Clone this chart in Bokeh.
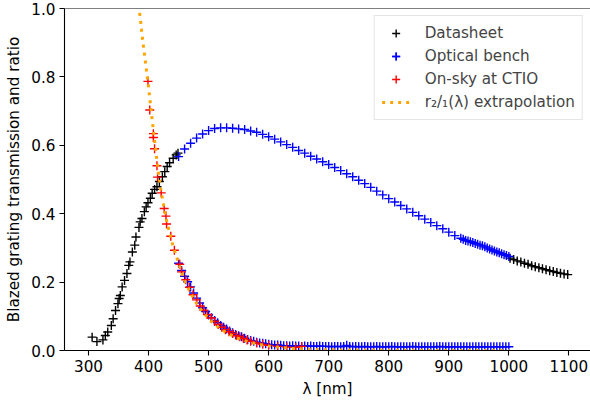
from bokeh.plotting import figure
from bokeh.models import (Range1d, FixedTicker, PrintfTickFormatter, Legend,
                          LegendItem, Span)
from bokeh.embed import file_html
from bokeh.resources import INLINE

# ---------------- data ----------------
# Datasheet transmission (black)
datasheet_wl = [306, 314, 324, 328, 332, 338, 341, 345, 349, 351,
                353, 356, 360, 364, 367, 369, 373, 377, 379, 384,
                386, 389, 393, 396, 399, 403, 406, 410, 414, 418,
                423, 427, 431, 435, 441, 446, 449,
                1002, 1008, 1014, 1020, 1026, 1032, 1038, 1044, 1050,
                1056, 1062, 1068, 1074, 1080, 1086, 1092, 1098]
datasheet_tr = [0.039, 0.026, 0.031, 0.044, 0.054, 0.073, 0.093, 0.117, 0.137, 0.152,
                0.161, 0.186, 0.205, 0.225, 0.249, 0.259, 0.288, 0.308, 0.332, 0.360,
                0.376, 0.386, 0.406, 0.420, 0.432, 0.445, 0.460, 0.471, 0.479, 0.494,
                0.508, 0.523, 0.538, 0.549, 0.562, 0.572, 0.577,
                0.270, 0.266, 0.262, 0.259, 0.255, 0.252, 0.248, 0.245, 0.242,
                0.239, 0.236, 0.233, 0.231, 0.228, 0.226, 0.224, 0.222]

# Optical bench transmission (blue)
bench_wl = list(range(450, 930, 10)) + list(range(924, 1004, 4))
bench_tr = [0.567, 0.589, 0.606, 0.621, 0.633, 0.643, 0.649, 0.651, 0.651, 0.650,
            0.648, 0.646, 0.642, 0.638, 0.632, 0.625, 0.618, 0.610, 0.602, 0.594,
            0.585, 0.577, 0.568, 0.560, 0.552, 0.544, 0.535, 0.526, 0.517, 0.508,
            0.498, 0.488, 0.477, 0.466, 0.455, 0.444, 0.434, 0.424, 0.414, 0.404,
            0.394, 0.384, 0.374, 0.365, 0.356, 0.346, 0.336, 0.328,
            0.325, 0.322, 0.320, 0.318, 0.316, 0.313, 0.311, 0.308, 0.306, 0.303,
            0.300, 0.297, 0.294, 0.291, 0.288, 0.286, 0.283, 0.280, 0.278, 0.275]

# Optical bench second-order ratio (blue)
bench_ratio_wl = list(range(450, 1005, 5))
bench_ratio = [0.255, 0.234, 0.217, 0.201, 0.186, 0.168, 0.153, 0.139, 0.125, 0.114,
               0.104, 0.096, 0.088, 0.081, 0.073, 0.068, 0.063, 0.057, 0.052, 0.047,
               0.043, 0.040, 0.036, 0.032, 0.029, 0.027, 0.024, 0.022, 0.021, 0.020,
               0.018, 0.017, 0.016, 0.016, 0.015,
               0.014, 0.014, 0.013, 0.014, 0.013, 0.013, 0.012, 0.013, 0.012, 0.013,
               0.012, 0.012, 0.013, 0.012, 0.012, 0.012, 0.011, 0.012, 0.012, 0.011,
               0.012, 0.015, 0.012, 0.011, 0.012, 0.011, 0.011, 0.012, 0.011, 0.011,
               0.011, 0.012, 0.011, 0.011, 0.011, 0.011, 0.012, 0.011, 0.011, 0.011,
               0.011, 0.011, 0.011, 0.012, 0.011, 0.011, 0.011, 0.011, 0.011, 0.011,
               0.011, 0.011, 0.012, 0.011, 0.011, 0.011, 0.011, 0.011, 0.011, 0.011,
               0.011, 0.011, 0.011, 0.011, 0.011, 0.011, 0.011, 0.011, 0.011, 0.011,
               0.011, 0.011, 0.011, 0.011, 0.011, 0.011]

# On-sky ratio at CTIO (red)
sky_wl = [399, 402, 408, 408, 410, 414, 415, 421, 426, 429,
          430, 437, 443, 452, 455, 462, 468, 474, 480, 486,
          492, 498, 504, 510, 516, 522, 528, 534, 540, 546,
          552, 558, 564, 570, 580, 590, 600, 615, 630, 645, 655]
sky_ratio = [0.787, 0.703, 0.634, 0.623, 0.590, 0.540, 0.507, 0.461, 0.415, 0.393,
             0.370, 0.334, 0.293, 0.252, 0.230, 0.207, 0.185, 0.163, 0.148, 0.130,
             0.118, 0.105, 0.095, 0.085, 0.076, 0.068, 0.061, 0.055, 0.050, 0.044,
             0.040, 0.035, 0.031, 0.027, 0.022, 0.018, 0.015, 0.012, 0.010, 0.009, 0.012]

# r_{2/1}(lambda) extrapolation (orange dotted)
ext_wl = [375, 380, 385, 390, 395, 400, 405, 410, 415, 420,
          425, 430, 435, 440, 445, 450, 460, 470, 480, 490,
          500, 510, 520, 530, 540, 550, 560, 570, 580, 590,
          600, 620, 640, 660, 700, 800, 900, 1000]
ext_ratio = [1.15, 1.07, 0.99, 0.91, 0.84, 0.77, 0.69, 0.615, 0.54, 0.475,
             0.425, 0.38, 0.345, 0.31, 0.283, 0.255, 0.205, 0.168, 0.138, 0.113,
             0.093, 0.077, 0.063, 0.052, 0.043, 0.035, 0.029, 0.024, 0.019, 0.016,
             0.013, 0.009, 0.006, 0.004, 0.002, 0.001, 0.0, 0.0]

x_ticks = [300, 400, 500, 600, 700, 800, 900, 1000, 1100]
y_ticks = [0.0, 0.2, 0.4, 0.6, 0.8, 1.0]

legend_labels = ["Datasheet", "Optical bench", "On-sky at CTIO",
                 "r\u2082/\u2081(\u03bb) extrapolation"]

# ---------------- figure ----------------
FONT = "DejaVu Sans"
FS = "15.2px"

p = figure(width=590, height=405, output_backend="svg", toolbar_location=None,
           x_range=Range1d(260, 1136), y_range=Range1d(0, 1),
           min_border_left=64, min_border_right=0, min_border_top=8,
           min_border_bottom=55)
p.outline_line_color = None
p.grid.visible = False

for ax in (p.xaxis[0], p.yaxis[0]):
    ax.major_tick_out = 5
    ax.major_tick_in = 0
    ax.minor_tick_out = 0
    ax.minor_tick_in = 0
    ax.axis_line_width = 1.1
    ax.major_tick_line_width = 1.1
    ax.major_label_text_font = FONT
    ax.major_label_text_font_size = FS
    ax.major_label_text_color = "black"
    ax.axis_label_text_font = FONT
    ax.axis_label_text_font_size = FS
    ax.axis_label_text_font_style = "normal"
    ax.axis_label_text_color = "black"
    ax.major_label_standoff = 4
    ax.axis_label_standoff = 5

p.xaxis.ticker = FixedTicker(ticks=x_ticks)
p.yaxis.ticker = FixedTicker(ticks=y_ticks)
p.yaxis.formatter = PrintfTickFormatter(format="%.1f")
p.xaxis.axis_label = "\u03bb [nm]"
p.yaxis.axis_label = "Blazed grating transmission and ratio"

# top spine
p.add_layout(Span(location=1.0, dimension="width", line_color="black",
                  line_width=1.1))

MS = 9
LW = 1.4
r_ds = p.scatter(datasheet_wl, datasheet_tr, marker="cross", size=MS,
                 line_color="black", line_width=LW)
r_bench = p.scatter(bench_wl, bench_tr, marker="cross", size=MS,
                    line_color="blue", line_width=LW)
r_bench2 = p.scatter(bench_ratio_wl, bench_ratio, marker="cross", size=MS,
                     line_color="blue", line_width=LW)
r_sky = p.scatter(sky_wl, sky_ratio, marker="cross", size=MS,
                  line_color="red", line_width=LW)
r_ext = p.line(ext_wl, ext_ratio, line_color="orange", line_width=3,
               line_dash="3 5")

legend = Legend(items=[
    LegendItem(label=legend_labels[0], renderers=[r_ds]),
    LegendItem(label=legend_labels[1], renderers=[r_bench, r_bench2]),
    LegendItem(label=legend_labels[2], renderers=[r_sky]),
    LegendItem(label=legend_labels[3], renderers=[r_ext]),
], location="top_right")
legend.label_text_font = FONT
legend.label_text_font_size = FS
legend.glyph_width = 28
legend.glyph_height = 20
legend.label_height = 20
legend.spacing = 3
legend.padding = 7
legend.label_standoff = 15
legend.margin = 7
legend.border_line_color = "#cccccc"
legend.border_line_width = 1
legend.background_fill_alpha = 0.8
p.add_layout(legend)

open("out.html", "w").write(file_html(p, INLINE))
